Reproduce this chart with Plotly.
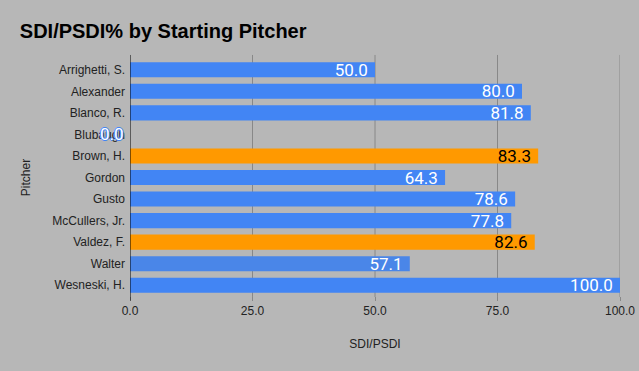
import plotly.graph_objects as go

pitchers = ["Arrighetti, S.", "Alexander", "Blanco, R.", "Blubaugh", "Brown, H.", "Gordon",
            "Gusto", "McCullers, Jr.", "Valdez, F.", "Walter", "Wesneski, H."]
values = [50.0, 80.0, 81.8, 0.0, 83.3, 64.3, 78.6, 77.8, 82.6, 57.1, 100.0]
bar_colors = ["#4285f4", "#4285f4", "#4285f4", "#4285f4", "#ff9900", "#4285f4",
              "#4285f4", "#4285f4", "#ff9900", "#4a86e8", "#4285f4"]
text_colors = ["#ffffff" if c != "#ff9900" else "#000000" for c in bar_colors]
x_ticks = [0, 25, 50, 75, 100]

labels = [f"{v:.1f}" for v in values]
fig = go.Figure()
fig.add_trace(go.Bar(
    y=pitchers, x=values, orientation="h",
    marker=dict(color=bar_colors, line=dict(width=0)),
    text=[l + "\u00a0" if v > 0 else "" for l, v in zip(labels, values)],
    textposition="inside", insidetextanchor="end", constraintext="none",
    textfont=dict(family="Roboto", size=17, color=text_colors),
    hoverinfo="skip",
))

# zero-value label sits just left of the axis
for p, v, l, c in zip(pitchers, values, labels, bar_colors):
    if v == 0:
        fig.add_annotation(x=v, y=p, text=l, showarrow=False, xanchor="right", xshift=-4,
                           font=dict(family="Roboto", size=17, color="#ffffff",
                                     shadow=f"1px 0 0 {c}, -1px 0 0 {c}, 0 1px 0 {c}, 0 -1px 0 {c}"))

fig.update_layout(
    width=639, height=371,
    paper_bgcolor="#b7b7b7", plot_bgcolor="#b7b7b7",
    margin=dict(l=130, r=19, t=59, b=75),
    bargap=0.3,
    showlegend=False,
    title=dict(text="<b>SDI/PSDI% by Starting Pitcher</b>", x=0.031, xanchor="left",
               y=0.916, yanchor="middle",
               font=dict(family="Liberation Sans, Arial", size=20, color="#000000")),
    font=dict(family="Liberation Sans, Arial", size=12, color="#222222"),
)
fig.update_xaxes(
    range=[0, 100], tickvals=x_ticks, ticktext=[f"{t:.1f}" for t in x_ticks],
    showgrid=False, zeroline=False, showline=False, automargin=False,
    ticks="outside", ticklen=4, tickcolor="#888888",
    title=dict(text="SDI/PSDI", font=dict(size=12, color="#222222"), standoff=22),
)
fig.update_yaxes(
    autorange="reversed", showgrid=False, zeroline=False,
    showline=False, automargin=False,
    ticks="", ticklabelstandoff=4,
    title=dict(text="Pitcher", font=dict(size=12, color="#222222"), standoff=19),
)
# gridlines extend slightly above the plot area, as in the reference
for t in x_ticks[1:]:
    fig.add_shape(type="line", xref="x", yref="paper", x0=t, x1=t, y0=-0.004, y1=1.017,
                  line=dict(color="#888888", width=1), layer="below")
fig.add_shape(type="line", xref="x", yref="paper", x0=0, x1=0, y0=-0.02, y1=1.017,
              line=dict(color="#000000", width=1))
fig.write_html("out.html", config={"displayModeBar": False},
               post_script="document.body.style.margin='0';")
